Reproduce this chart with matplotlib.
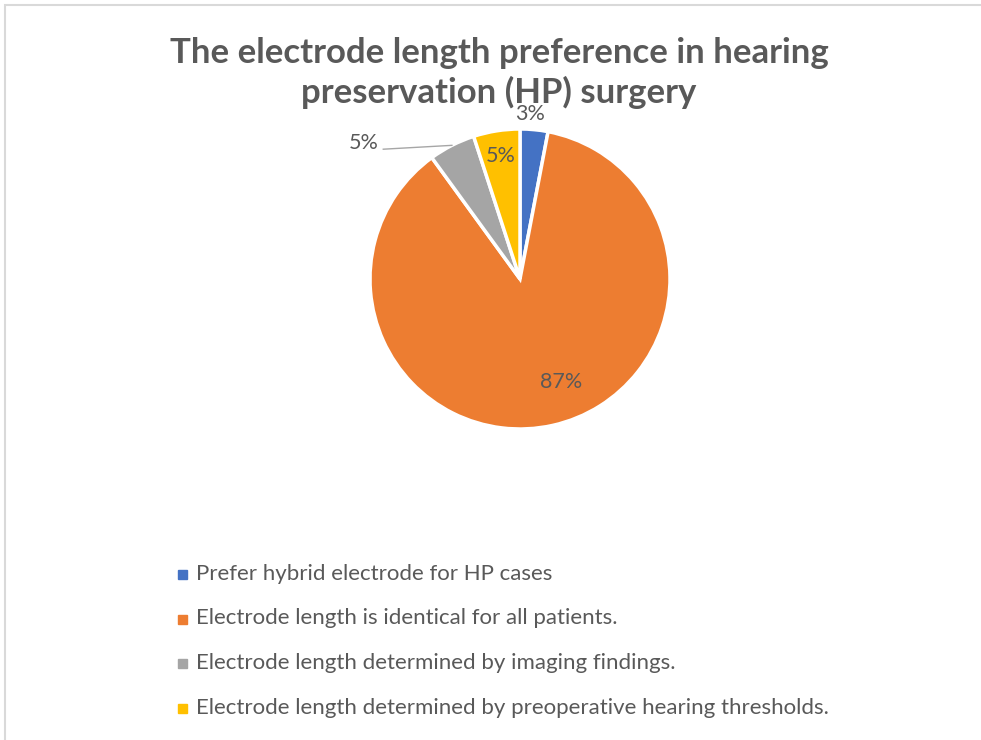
import numpy as np
import matplotlib.pyplot as plt
from matplotlib.patches import Rectangle

categories = [
    'Prefer hybrid electrode for HP cases',
    'Electrode length is identical for all patients.',
    'Electrode length determined by imaging findings.',
    'Electrode length determined by preoperative hearing thresholds.',
]
shares = [3, 87, 5, 5]
colors = ['#4472C4', '#ED7D31', '#A5A5A5', '#FFC000']
# radius (in pie units) where each percentage label sits
label_radius = [1.1, 0.74, 1.38, 0.83]
label_angle_shift = [2, 9, 22, 0]

W, H = 981, 740
plt.rcParams['font.family'] = ['Lato', 'DejaVu Sans']
text_color = '#595959'

fig = plt.figure(figsize=(W / 100, H / 100), dpi=100)

# chart area border
fig.patches.append(Rectangle((5 / W, -0.1), 1.2, (H - 4.5) / H + 0.1,
                             transform=fig.transFigure, fill=False,
                             edgecolor='#D9D9D9', linewidth=1.5))

cx, cy, r = 520, H - 279, 150
span = 1.6
side = 2 * span * r
ax = fig.add_axes([(cx - side / 2) / W, (cy - side / 2) / H, side / W, side / H])

wedges, texts, autotexts = ax.pie(
    shares, colors=colors, startangle=90, counterclock=False,
    autopct='%d%%', wedgeprops=dict(edgecolor='white', linewidth=2.5),
    textprops=dict(color=text_color, fontsize=15.5))

ax.set_xlim(-span, span)
ax.set_ylim(-span, span)
ax.set_aspect('equal')
ax.axis('off')

for w, t, rad, shift in zip(wedges, autotexts, label_radius, label_angle_shift):
    mid = np.deg2rad((w.theta1 + w.theta2) / 2 + shift)
    t.set_position((rad * np.cos(mid), rad * np.sin(mid)))
    t.set_ha('center')
    t.set_va('center')

# leader line for the grey slice label
g = wedges[2]
gm = np.deg2rad((g.theta1 + g.theta2) / 2)
lx, ly = autotexts[2].get_position()
ax.plot([lx + 0.13, np.cos(gm)], [ly - 0.04, np.sin(gm)],
        color='#A6A6A6', linewidth=1)

fig.text(499 / W, 1 - 37 / H,
         'The electrode length preference in hearing\npreservation (HP) surgery',
         ha='center', va='top', fontsize=25, fontweight='bold',
         color=text_color, linespacing=1.25)

# legend entries
for i, (name, c) in enumerate(zip(categories, colors)):
    y = 574 + i * 44.5
    fig.patches.append(Rectangle((178 / W, 1 - (y + 5) / H), 9 / W, 9 / H,
                                 transform=fig.transFigure, color=c))
    fig.text(196 / W, 1 - y / H, name, ha='left', va='center',
             fontsize=16, color=text_color)

fig.savefig('out.png', dpi=100)
